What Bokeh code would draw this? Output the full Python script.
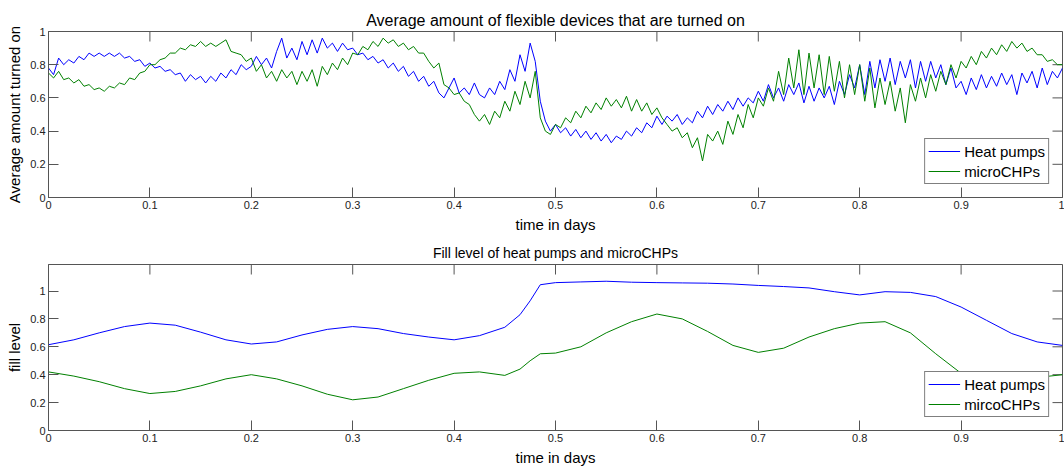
from bokeh.plotting import figure
from bokeh.layouts import column
from bokeh.models import FixedTicker, NumeralTickFormatter, Range1d
from bokeh.embed import file_html
from bokeh.resources import INLINE

FONT = "Liberation Sans"
BLUE = "#0000ff"
GREEN = "#008000"

# ---------------- data: top chart (share of devices switched on) ----------------
t_on = [round(i * 0.005, 3) for i in range(201)]

hp_on = [
    0.78, 0.74, 0.84, 0.80, 0.83, 0.81, 0.85, 0.83, 0.87, 0.85,
    0.87, 0.85, 0.87, 0.85, 0.87, 0.84, 0.85, 0.82, 0.83, 0.79,
    0.81, 0.78, 0.79, 0.76, 0.77, 0.74, 0.75, 0.70, 0.74, 0.71,
    0.73, 0.69, 0.73, 0.70, 0.75, 0.72, 0.77, 0.74, 0.80, 0.77,
    0.79, 0.85, 0.80, 0.84, 0.78, 0.88, 0.96, 0.84, 0.90, 0.83,
    0.94, 0.86, 0.95, 0.87, 0.96, 0.90, 0.93, 0.88, 0.93, 0.89,
    0.90, 0.86, 0.87, 0.83, 0.85, 0.81, 0.83, 0.78, 0.81, 0.76,
    0.79, 0.73, 0.76, 0.70, 0.73, 0.67, 0.70, 0.63, 0.60, 0.66,
    0.72, 0.63, 0.66, 0.62, 0.69, 0.62, 0.60, 0.66, 0.62, 0.70,
    0.65, 0.77, 0.70, 0.86, 0.76, 0.93, 0.82, 0.58, 0.46, 0.40,
    0.44, 0.39, 0.42, 0.37, 0.41, 0.36, 0.40, 0.35, 0.39, 0.34,
    0.38, 0.33, 0.37, 0.35, 0.40, 0.37, 0.42, 0.39, 0.45, 0.42,
    0.49, 0.44, 0.49, 0.46, 0.50, 0.44, 0.48, 0.45, 0.52, 0.48,
    0.55, 0.50, 0.56, 0.52, 0.58, 0.53, 0.60, 0.55, 0.60, 0.57,
    0.64, 0.58, 0.68, 0.60, 0.66, 0.58, 0.68, 0.62, 0.69, 0.57,
    0.67, 0.58, 0.66, 0.60, 0.67, 0.56, 0.70, 0.62, 0.74, 0.66,
    0.80, 0.62, 0.82, 0.66, 0.83, 0.70, 0.84, 0.68, 0.82, 0.72,
    0.83, 0.66, 0.82, 0.70, 0.82, 0.72, 0.80, 0.68, 0.78, 0.66,
    0.70, 0.62, 0.72, 0.65, 0.74, 0.66, 0.73, 0.67, 0.75, 0.68,
    0.74, 0.62, 0.75, 0.69, 0.76, 0.66, 0.78, 0.68, 0.76, 0.72,
    0.78,
]

chp_on = [
    0.75, 0.72, 0.76, 0.71, 0.72, 0.69, 0.71, 0.67, 0.68, 0.65,
    0.66, 0.64, 0.67, 0.66, 0.69, 0.68, 0.72, 0.71, 0.75, 0.76,
    0.80, 0.80, 0.83, 0.84, 0.87, 0.87, 0.90, 0.89, 0.92, 0.91,
    0.94, 0.91, 0.93, 0.91, 0.93, 0.95, 0.88, 0.87, 0.86, 0.82,
    0.84, 0.76, 0.80, 0.72, 0.76, 0.70, 0.77, 0.72, 0.76, 0.68,
    0.76, 0.70, 0.77, 0.67, 0.79, 0.74, 0.81, 0.77, 0.84, 0.80,
    0.87, 0.86, 0.91, 0.89, 0.94, 0.91, 0.96, 0.93, 0.95, 0.91,
    0.93, 0.89, 0.91, 0.87, 0.87, 0.82, 0.78, 0.81, 0.68, 0.66,
    0.62, 0.63, 0.58, 0.56, 0.50, 0.46, 0.50, 0.44, 0.52, 0.48,
    0.58, 0.52, 0.64, 0.56, 0.70, 0.60, 0.76, 0.48, 0.40, 0.38,
    0.44, 0.42, 0.48, 0.45, 0.52, 0.48, 0.55, 0.51, 0.57, 0.53,
    0.60, 0.55, 0.59, 0.54, 0.61, 0.52, 0.59, 0.52, 0.57, 0.50,
    0.54, 0.48, 0.44, 0.40, 0.42, 0.36, 0.39, 0.30, 0.36, 0.22,
    0.38, 0.34, 0.40, 0.32, 0.46, 0.38, 0.50, 0.42, 0.56, 0.48,
    0.60, 0.55, 0.66, 0.58, 0.76, 0.62, 0.84, 0.66, 0.89, 0.62,
    0.87, 0.66, 0.86, 0.62, 0.85, 0.64, 0.82, 0.60, 0.80, 0.62,
    0.80, 0.58, 0.78, 0.54, 0.72, 0.56, 0.70, 0.52, 0.66, 0.45,
    0.68, 0.58, 0.72, 0.60, 0.74, 0.64, 0.76, 0.68, 0.80, 0.72,
    0.82, 0.78, 0.85, 0.80, 0.88, 0.84, 0.90, 0.86, 0.92, 0.88,
    0.94, 0.90, 0.93, 0.88, 0.90, 0.86, 0.86, 0.82, 0.83, 0.80,
    0.80,
]

# ---------------- data: bottom chart (fill level) ----------------
t_fill = [0, 0.025, 0.05, 0.075, 0.1, 0.125, 0.15, 0.175, 0.2, 0.225,
          0.25, 0.275, 0.3, 0.325, 0.35, 0.375, 0.4, 0.425, 0.45, 0.465,
          0.475, 0.485, 0.5, 0.525, 0.55, 0.575, 0.6, 0.625, 0.65, 0.675,
          0.7, 0.725, 0.75, 0.775, 0.8, 0.825, 0.85, 0.875, 0.9, 0.925,
          0.95, 0.975, 1.0]

hp_fill = [0.615, 0.650, 0.700, 0.745, 0.770, 0.755, 0.705, 0.650, 0.620, 0.635,
           0.685, 0.725, 0.745, 0.730, 0.695, 0.670, 0.650, 0.680, 0.740, 0.830,
           0.930, 1.045, 1.060, 1.065, 1.070, 1.063, 1.060, 1.058, 1.056, 1.050,
           1.040, 1.032, 1.022, 0.995, 0.972, 0.995, 0.990, 0.960, 0.885, 0.790,
           0.695, 0.635, 0.610]

chp_fill = [0.420, 0.390, 0.350, 0.300, 0.265, 0.280, 0.320, 0.370, 0.400, 0.370,
            0.320, 0.260, 0.220, 0.240, 0.300, 0.360, 0.410, 0.420, 0.395, 0.440,
            0.500, 0.550, 0.555, 0.600, 0.700, 0.780, 0.835, 0.800, 0.710, 0.610,
            0.560, 0.590, 0.670, 0.730, 0.770, 0.780, 0.700, 0.550, 0.410, 0.380,
            0.370, 0.380, 0.400]

x_ticks = [0, 0.1, 0.2, 0.3, 0.4, 0.5, 0.6, 0.7, 0.8, 0.9, 1.0]
y_ticks = [0, 0.2, 0.4, 0.6, 0.8, 1.0]

assert len(hp_on) == len(t_on) and len(chp_on) == len(t_on)
assert len(hp_fill) == len(t_fill) and len(chp_fill) == len(t_fill)

AX = "#555555"
FW, FH = 1014, 166
TICK = 10


def make_fig(title, ylabel, ymax, top_border, bottom_border, title_size, title_standoff):
    p = figure(frame_width=FW, frame_height=FH,
               min_border_left=48, min_border_right=2,
               min_border_top=top_border, min_border_bottom=bottom_border,
               x_range=Range1d(0, 1), y_range=Range1d(0, ymax),
               output_backend="svg", toolbar_location=None,
               title=title)
    p.title.align = "center"
    p.title.text_font = FONT
    p.title.text_font_size = title_size
    p.title.text_font_style = "normal"
    p.title.text_color = "black"
    p.title.standoff = title_standoff
    p.xgrid.visible = False
    p.ygrid.visible = False
    p.outline_line_color = AX
    p.outline_line_alpha = 1
    p.background_fill_color = "white"
    p.border_fill_color = "white"

    p.xaxis.ticker = FixedTicker(ticks=x_ticks)
    p.yaxis.ticker = FixedTicker(ticks=y_ticks)
    for ax in (p.xaxis[0], p.yaxis[0]):
        ax.formatter = NumeralTickFormatter(format="0.[0]")
        ax.major_tick_in = TICK
        ax.major_tick_out = 0
        ax.minor_tick_in = 0
        ax.minor_tick_out = 0
        ax.major_tick_line_color = AX
        ax.axis_line_color = AX
        ax.major_label_text_font = FONT
        ax.major_label_text_font_size = "11px"
        ax.major_label_text_color = "#222222"
        ax.axis_label_text_font = FONT
        ax.axis_label_text_font_size = "15px"
        ax.axis_label_text_font_style = "normal"
        ax.axis_label_text_color = "black"
        ax.major_label_standoff = 3
        ax.axis_label_standoff = 4
    p.xaxis.axis_label = "time in days"
    p.yaxis.axis_label = ylabel

    # mirrored tick marks on the top and right edges of the box
    dy = TICK / FH * ymax
    dx = TICK / FW * 1.0
    p.segment(x0=x_ticks, y0=[ymax] * len(x_ticks), x1=x_ticks, y1=[ymax - dy] * len(x_ticks),
              line_color=AX, line_width=1)
    p.segment(x0=[1.0] * len(y_ticks), y0=y_ticks, x1=[1.0 - dx] * len(y_ticks), y1=y_ticks,
              line_color=AX, line_width=1)
    return p


def style_legend(p):
    lg = p.legend[0]
    lg.location = "bottom_right"
    lg.margin = 13
    lg.padding = 3
    lg.spacing = 2
    lg.glyph_width = 32
    lg.glyph_height = 18
    lg.label_height = 18
    lg.label_standoff = 4
    lg.label_text_font = FONT
    lg.label_text_font_size = "15px"
    lg.label_text_color = "black"
    lg.border_line_color = "black"
    lg.border_line_width = 1
    lg.background_fill_color = "white"
    lg.background_fill_alpha = 1


p1 = make_fig("Average amount of flexible devices that are turned on",
              "Average amount turned on", 1.0, 31, 37, "16px", 6)
p1.line(t_on, hp_on, color=BLUE, line_width=1, legend_label="Heat pumps")
p1.line(t_on, chp_on, color=GREEN, line_width=1, legend_label="microCHPs")
style_legend(p1)

p2 = make_fig("Fill level of heat pumps and microCHPs",
              "fill level", 1.19, 29, 39, "14px", 7)
p2.line(t_fill, hp_fill, color=BLUE, line_width=1, legend_label="Heat pumps")
p2.line(t_fill, chp_fill, color=GREEN, line_width=1, legend_label="mircoCHPs")
style_legend(p2)

layout = column(p1, p2, spacing=0)
open("out.html", "w").write(file_html(layout, INLINE))
